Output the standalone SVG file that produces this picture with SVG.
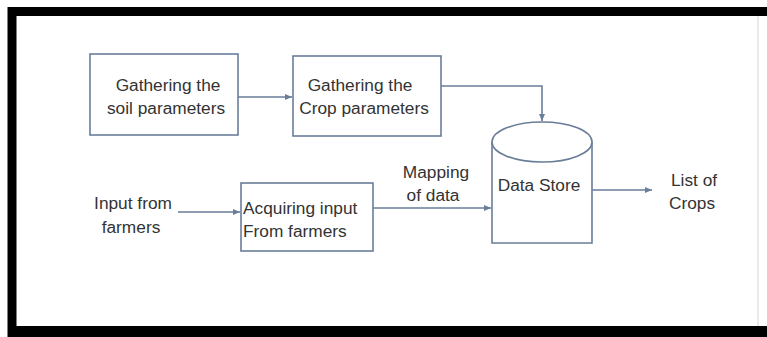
<svg xmlns="http://www.w3.org/2000/svg" width="767" height="337" viewBox="0 0 767 337">
<style>
.box{fill:#fff;stroke:#6a7d99;stroke-width:1.6}
.ln{fill:none;stroke:#6a7d99;stroke-width:1.6}
.t{font-family:"Liberation Sans",Arial,sans-serif;font-size:17.3px;fill:#333}
</style>
<defs>
<marker id="ah" markerWidth="8" markerHeight="8" refX="7" refY="4" orient="auto" markerUnits="userSpaceOnUse">
<path d="M0,1 L7,4 L0,7 Z" fill="#6a7d99"/>
</marker>
</defs>
<rect x="0" y="0" width="767" height="337" fill="#fff"/>
<path d="M12,337 L12,11.5 L767,11.5" fill="none" stroke="#000" stroke-width="9"/>
<rect x="8" y="326" width="759" height="11" fill="#000"/>
<line x1="758" y1="16" x2="758" y2="326" stroke="#e4e4e4" stroke-width="1.5"/>
<g id="connectors">
<line class="ln" x1="238" y1="97" x2="292" y2="97" marker-end="url(#ah)"/>
<polyline class="ln" points="441,86 542,86 542,121" marker-end="url(#ah)"/>
<line class="ln" x1="178" y1="212" x2="240" y2="212" marker-end="url(#ah)"/>
<line class="ln" x1="373" y1="208" x2="491" y2="208" marker-end="url(#ah)"/>
<line class="ln" x1="592" y1="190" x2="652" y2="190" marker-end="url(#ah)"/>
</g>
<g id="soil">
<rect class="box" x="90" y="54" width="148" height="81"/>
<text class="t" x="168" y="91" text-anchor="middle">Gathering the</text>
<text class="t" x="166" y="114" text-anchor="middle">soil parameters</text>
</g>
<g id="crop">
<rect class="box" x="293" y="56" width="148" height="80"/>
<text class="t" x="360" y="91" text-anchor="middle">Gathering the</text>
<text class="t" x="364" y="114" text-anchor="middle">Crop parameters</text>
</g>
<g id="input">
<text class="t" x="133" y="209" text-anchor="middle">Input from</text>
<text class="t" x="131" y="233" text-anchor="middle">farmers</text>
</g>
<g id="acquire">
<rect class="box" x="241" y="183" width="132" height="68"/>
<text class="t" x="243" y="214">Acquiring input</text>
<text class="t" x="243" y="237">From farmers</text>
</g>
<g id="mapping">
<text class="t" x="436" y="178" text-anchor="middle">Mapping</text>
<text class="t" x="433" y="201" text-anchor="middle">of data</text>
</g>
<g id="datastore">
<path class="box" d="M492,142 L492,243 L592,243 L592,142"/>
<ellipse class="box" cx="542" cy="142" rx="50" ry="20"/>
<text class="t" x="539" y="191" text-anchor="middle">Data Store</text>
</g>
<g id="crops">
<text class="t" x="694" y="186" text-anchor="middle">List of</text>
<text class="t" x="692" y="209" text-anchor="middle">Crops</text>
</g>
</svg>
